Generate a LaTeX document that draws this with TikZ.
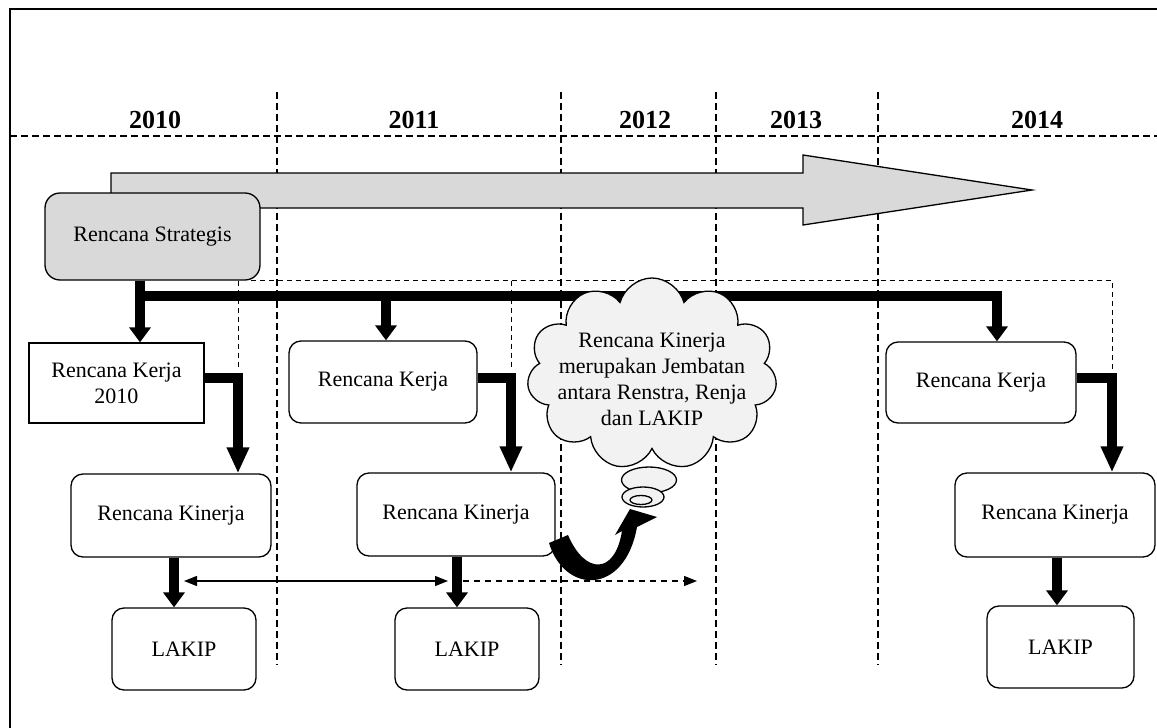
\documentclass[tikz,border=0pt]{standalone}
\usepackage{fontspec}
\setmainfont{Liberation Serif}
\usetikzlibrary{arrows.meta, shapes.symbols, shapes.geometric, calc}
\definecolor{cfill}{HTML}{D9D9D9}
\definecolor{ccloud}{HTML}{F2F2F2}
\tikzset{
  every picture/.style={line width=1.3pt},
  box/.style={draw, rounded corners=12pt, align=center, inner sep=0pt},
  bar/.style={line width=10pt, -{Triangle[length=15pt, width=21pt]}},
  longbar/.style={bar, -{Triangle[length=26pt, width=21pt]}},
  link/.style={line width=1.3pt, -{Triangle[length=13pt, width=10pt]}},
  divider/.style={dash pattern=on 7pt off 4pt, line width=1.4pt},
  guide/.style={dash pattern=on 5pt off 4pt, line width=1pt},
  year/.style={font=\fontsize{26}{30}\selectfont\bfseries, anchor=base},
}
\begin{document}
\begin{tikzpicture}[
    x=1pt, y=-1pt,
    every node/.append style={font=\fontsize{22}{26}\selectfont},
    puff/.style={ellipse, draw, fill=ccloud, inner sep=0pt},
  ]
  \useasboundingbox (0,0) rectangle (1157,728);
  % frame
  \draw[line width=1.6pt] (10,728) -- (10,9) -- (1157,9);

  % years
  \draw[divider] (10,136) -- (1157,136);
  \foreach \x in {277,561,716,878} \draw[divider] (\x,92) -- (\x,665);
  \node[year] (y10) at (155,128) {2010};
  \node[year] (y11) at (414,128) {2011};
  \node[year] (y12) at (645,128) {2012};
  \node[year] (y13) at (796,128) {2013};
  \node[year] (y14) at (1037,128) {2014};

  % time arrow
  \draw[fill=cfill] (111,173) -- (803,173) -- (803,155) -- (1032,190) -- (803,225) -- (803,208) -- (111,208) -- cycle;

  % boxes
  \node[box, fill=cfill, rounded corners=15pt, minimum width=215pt, minimum height=87pt] (strat) at (152.5,236.5) {Rencana Strategis};
  \node[box, sharp corners, minimum width=175pt, minimum height=80pt] (rk1) at (116.5,383) {Rencana Kerja\\2010};
  \node[box, minimum width=188pt, minimum height=82pt] (rk2) at (383,382) {Rencana Kerja};
  \node[box, minimum width=190pt, minimum height=81pt] (rk5) at (981,382.5) {Rencana Kerja};
  \node[box, minimum width=200pt, minimum height=83pt] (rkin1) at (171,515.5) {Rencana Kinerja};
  \node[box, minimum width=198pt, minimum height=83pt] (rkin2) at (456,514.5) {Rencana Kinerja};
  \node[box, minimum width=200pt, minimum height=84pt] (rkin5) at (1055,515) {Rencana Kinerja};
  \node[box, minimum width=144pt, minimum height=82pt] (lakip1) at (184,649) {LAKIP};
  \node[box, minimum width=144pt, minimum height=82pt] (lakip2) at (467,649) {LAKIP};
  \node[box, minimum width=147pt, minimum height=82pt] (lakip5) at (1060.5,647) {LAKIP};

  % bus from Renstra to each Renja
  \coordinate (busL) at (140,296);
  \coordinate (busM) at (386,296);
  \coordinate (busR) at (997,296);
  \coordinate (e1) at (238,378);
  \coordinate (e2) at (511,378);
  \coordinate (e5) at (1112,378);
  \draw[guide] ([xshift=-10pt]strat.south east) -- (e5 |- strat.south) -- ([yshift=8pt]e5);
  \draw[guide] (e1 |- strat.south) -- ([yshift=8pt]e1);
  \draw[guide] (e2 |- strat.south) -- ([yshift=8pt]e2);
  \draw[bar] (strat.south -| busL) -- (rk1.north -| busL);
  \draw[bar] (busL) -- (busR) -- (rk5.north -| busR);
  \draw[bar] (busM) -- (rk2.north -| busM);

  % Renja to Renkin
  \draw[longbar] (rk1.east |- e1) -- (e1) -- (rkin1.north -| e1);
  \draw[longbar] (rk2.east |- e2) -- (e2) -- (rkin2.north -| e2);
  \draw[longbar] (rk5.east |- e5) -- (e5) -- (rkin5.north -| e5);

  % Renkin to LAKIP
  \coordinate (k1) at (174,581);
  \coordinate (k2) at (457,581);
  \coordinate (k5) at (1057,581);
  \coordinate (dEnd) at (697,581);
  \draw[bar] (rkin1.south -| k1) -- (lakip1.north -| k1);
  \draw[bar] (rkin2.south -| k2) -- (lakip2.north -| k2);
  \draw[bar] (rkin5.south -| k5) -- (lakip5.north -| k5);
  \draw[link, {Triangle[length=13pt, width=10pt]}-{Triangle[length=13pt, width=10pt]}] ([xshift=10pt]k1) -- ([xshift=-9pt]k2);
  \draw[link, dash pattern=on 6pt off 5pt] ([xshift=6pt]k2) -- (dEnd);

  % thought cloud
  \node[cloud, draw, fill=ccloud, cloud puffs=11, cloud ignores aspect, minimum width=250pt, minimum height=192pt, inner sep=0pt] (think) at (652,374) {};
  \node[align=center] (thinktext) at (652,379) {Rencana Kinerja\\merupakan Jembatan\\antara Renstra, Renja\\dan LAKIP};
  \node[puff, minimum width=55pt, minimum height=26pt] (puff1) at (649,480) {};
  \node[puff, minimum width=42pt, minimum height=20pt] (puff2) at (643,497) {};
  \node[puff, minimum width=22pt, minimum height=9pt] (puff3) at (641,500) {};

  % curved arrow into the cloud
  \fill (549,543) .. controls (565,595) and (625,595) .. (637,527) -- (657,517) -- (630,509) -- (615,535) -- (622,531) .. controls (615,575) and (585,575) .. (568,535) -- cycle;
\end{tikzpicture}
\end{document}
